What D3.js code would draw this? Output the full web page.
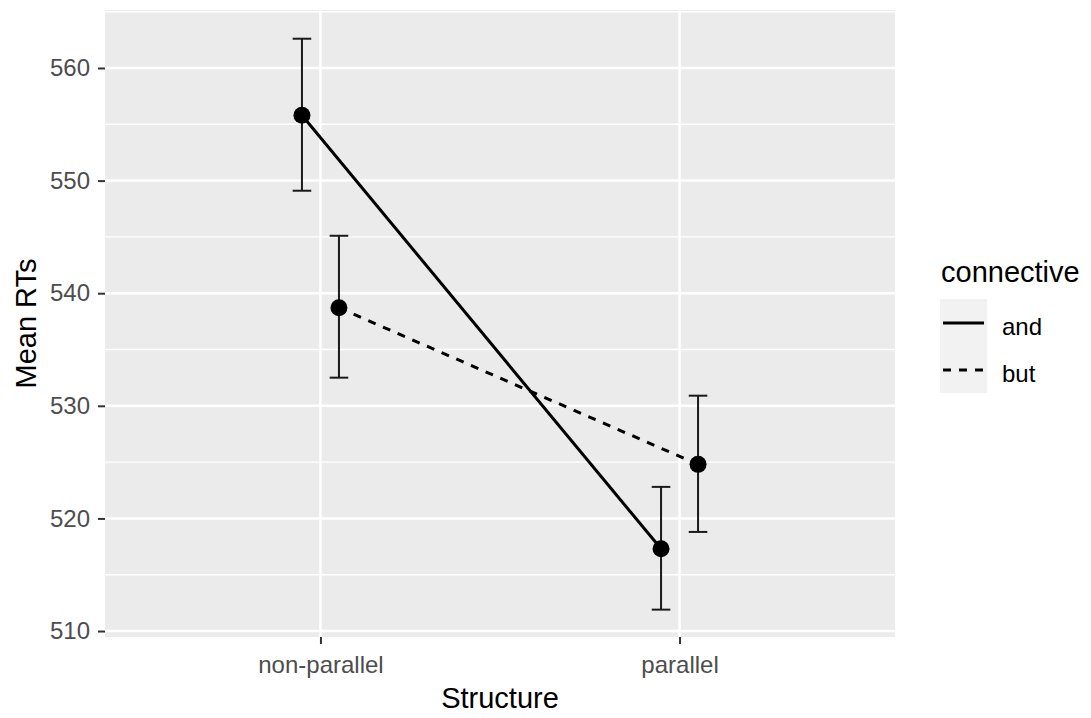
<!DOCTYPE html>
<html>
<head>
<meta charset="utf-8">
<script src="https://d3js.org/d3.v7.min.js"></script>
<style>
  body { margin: 0; background: #fff; }
  text { font-family: "Liberation Sans", Arial, sans-serif; }
</style>
</head>
<body>
<div id="chart"></div>
<script>
// Data
const structures = ["non-parallel", "parallel"]
const connectives = ["and", "but"]
const meanAnd = [555.8, 517.3]
const meanBut = [538.7, 524.8]
const lowerAnd = [549.1, 511.9]
const upperAnd = [562.6, 522.8]
const lowerBut = [532.5, 518.8]
const upperBut = [545.1, 530.9]
const yTicks = [510, 520, 530, 540, 550, 560]

const WIDTH = 1091
const HEIGHT = 718
const PLOT = {LEFT: 105, RIGHT: 895, TOP: 10, BOTTOM: 637}

const TICK_FONT = "24px"
const TITLE_FONT = "29px"

const svg = d3.select("#chart").append("svg")
    .attr("width", WIDTH)
    .attr("height", HEIGHT)

// scales
const xScale = d3.scalePoint()
    .domain(structures)
    .range([PLOT.LEFT, PLOT.RIGHT])
    .padding(0.6)

const dodge = d3.scalePoint()
    .domain(connectives)
    .range([-18.5, 18.5])

const yScale = d3.scaleLinear()
    .domain([509.47, 565.15])
    .range([PLOT.BOTTOM, PLOT.TOP])

// panel
svg.append("rect")
    .attr("x", PLOT.LEFT).attr("y", PLOT.TOP)
    .attr("width", PLOT.RIGHT - PLOT.LEFT)
    .attr("height", PLOT.BOTTOM - PLOT.TOP)
    .attr("fill", "#ebebeb")

// minor grid
const minor = d3.range(yTicks.length - 1).map(i => (yTicks[i] + yTicks[i + 1]) / 2)
minor.push(yTicks[yTicks.length - 1] + 5)
svg.append("g").selectAll("line")
    .data(minor.filter(v => yScale(v) > PLOT.TOP))
    .join("line")
    .attr("x1", PLOT.LEFT).attr("x2", PLOT.RIGHT)
    .attr("y1", d => yScale(d)).attr("y2", d => yScale(d))
    .attr("stroke", "#fff").attr("stroke-width", 1.4)

// major grid
svg.append("g").selectAll("line")
    .data(yTicks)
    .join("line")
    .attr("x1", PLOT.LEFT).attr("x2", PLOT.RIGHT)
    .attr("y1", d => yScale(d)).attr("y2", d => yScale(d))
    .attr("stroke", "#fff").attr("stroke-width", 2.5)

svg.append("g").selectAll("line")
    .data(structures)
    .join("line")
    .attr("x1", d => xScale(d)).attr("x2", d => xScale(d))
    .attr("y1", PLOT.TOP).attr("y2", PLOT.BOTTOM)
    .attr("stroke", "#fff").attr("stroke-width", 2.5)

// axes
const yAxis = svg.append("g")
    .attr("transform", "translate(" + PLOT.LEFT + ",0)")
    .call(d3.axisLeft(yScale).tickValues(yTicks).tickSize(7).tickPadding(8))
yAxis.select(".domain").remove()
yAxis.selectAll("line").attr("stroke", "#333").attr("stroke-width", 2)
yAxis.selectAll("text").attr("fill", "#4d4d4d").style("font-size", TICK_FONT)

const xAxis = svg.append("g")
    .attr("transform", "translate(0," + PLOT.BOTTOM + ")")
    .call(d3.axisBottom(xScale).tickSize(7).tickPadding(12))
xAxis.select(".domain").remove()
xAxis.selectAll("line").attr("stroke", "#333").attr("stroke-width", 2)
xAxis.selectAll("text").attr("fill", "#4d4d4d").style("font-size", TICK_FONT)

// axis titles
svg.append("text")
    .attr("x", (PLOT.LEFT + PLOT.RIGHT) / 2).attr("y", 708)
    .attr("text-anchor", "middle")
    .style("font-size", TITLE_FONT).attr("fill", "#000")
    .text("Structure")

svg.append("text")
    .attr("transform", "translate(36," + (PLOT.TOP + PLOT.BOTTOM) / 2 + ") rotate(-90)")
    .attr("text-anchor", "middle")
    .style("font-size", TITLE_FONT).attr("fill", "#000")
    .text("Mean RTs")

// build rows
const series = [
    {name: "and", mean: meanAnd, lo: lowerAnd, hi: upperAnd, dash: null},
    {name: "but", mean: meanBut, lo: lowerBut, hi: upperBut, dash: "8,8"}
]
const px = (s, i) => xScale(structures[i]) + dodge(s.name)

// lines
series.forEach(s => {
    const line = d3.line()
        .x((d, i) => px(s, i))
        .y(d => yScale(d))
    svg.append("path")
        .datum(s.mean)
        .attr("d", line)
        .attr("fill", "none")
        .attr("stroke", "#000")
        .attr("stroke-width", 3)
        .attr("stroke-dasharray", s.dash)
})

// error bars
series.forEach(s => {
    const g = svg.append("g").attr("stroke", "#1a1a1a").attr("stroke-width", 2)
    structures.forEach((c, i) => {
        const x = px(s, i)
        g.append("line").attr("x1", x).attr("x2", x)
            .attr("y1", yScale(s.lo[i])).attr("y2", yScale(s.hi[i]))
        g.append("line").attr("x1", x - 9.3).attr("x2", x + 9.3)
            .attr("y1", yScale(s.lo[i])).attr("y2", yScale(s.lo[i]))
        g.append("line").attr("x1", x - 9.3).attr("x2", x + 9.3)
            .attr("y1", yScale(s.hi[i])).attr("y2", yScale(s.hi[i]))
    })
})

// points
series.forEach(s => {
    svg.append("g").selectAll("circle")
        .data(s.mean)
        .join("circle")
        .attr("cx", (d, i) => px(s, i))
        .attr("cy", d => yScale(d))
        .attr("r", 8.5)
        .attr("fill", "#000")
})

// legend
const legend = svg.append("g").attr("transform", "translate(940,0)")
legend.append("text")
    .attr("x", 1).attr("y", 282)
    .style("font-size", TITLE_FONT).attr("fill", "#000")
    .text("connective")
legend.append("rect")
    .attr("x", 0).attr("y", 299)
    .attr("width", 47).attr("height", 94)
    .attr("fill", "#f2f2f2")
connectives.forEach((c, i) => {
    const y = 323 + i * 47
    legend.append("line")
        .attr("x1", 3).attr("x2", 44)
        .attr("y1", y).attr("y2", y)
        .attr("stroke", "#000").attr("stroke-width", 3)
        .attr("stroke-dasharray", series[i].dash)
    legend.append("text")
        .attr("x", 62).attr("y", y + 12)
        .style("font-size", TICK_FONT).attr("fill", "#000")
        .text(c)
})
</script>
</body>
</html>
